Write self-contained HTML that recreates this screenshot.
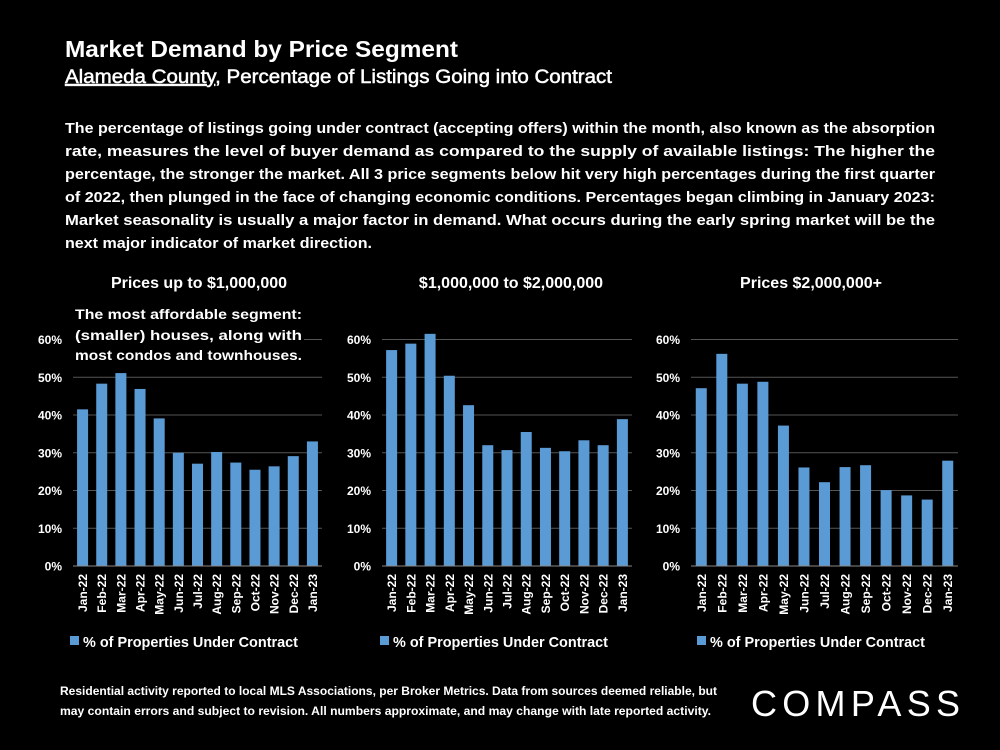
<!DOCTYPE html>
<html><head><meta charset="utf-8"><style>
html,body{margin:0;padding:0;background:#000;}
svg{display:block;font-family:"Liberation Sans",sans-serif;}
</style></head><body>
<svg id="s" width="1000" height="750" viewBox="0 0 1000 750">
<rect width="1000" height="750" fill="#000"/>
<text x="65" y="57" fill="#fff" font-size="23" font-weight="bold" textLength="393" lengthAdjust="spacingAndGlyphs">Market Demand by Price Segment</text>
<text x="65" y="83" fill="#fff" font-size="19" stroke="#fff" stroke-width="0.5" textLength="547" lengthAdjust="spacingAndGlyphs"><tspan text-decoration="underline">Alameda County</tspan>, Percentage of Listings Going into Contract</text>
<g fill="#fff" font-size="15" font-weight="bold">
<text x="65" y="133" textLength="870" lengthAdjust="spacingAndGlyphs">The percentage of listings going under contract (accepting offers) within the month, also known as the absorption</text>
<text x="65" y="156" textLength="870" lengthAdjust="spacingAndGlyphs">rate, measures the level of buyer demand as compared to the supply of available listings:  The higher the</text>
<text x="65" y="179" textLength="870" lengthAdjust="spacingAndGlyphs">percentage, the stronger the market. All 3 price segments below hit very high percentages during the first quarter</text>
<text x="65" y="202" textLength="870" lengthAdjust="spacingAndGlyphs">of 2022, then plunged in the face of changing economic conditions. Percentages began climbing in January 2023:</text>
<text x="65" y="225" textLength="870" lengthAdjust="spacingAndGlyphs">Market seasonality is usually a major factor in demand. What occurs during the early spring market will be the</text>
<text x="65" y="248" textLength="307" lengthAdjust="spacingAndGlyphs">next major indicator of market direction.</text>
</g>
<g id="charts"></g>
<rect x="72" y="302" width="232" height="64" fill="#000"/>
<g fill="#fff" font-size="14" font-weight="bold">
<text x="75" y="319" textLength="227" lengthAdjust="spacingAndGlyphs">The most affordable segment:</text>
<text x="75" y="340" textLength="227" lengthAdjust="spacingAndGlyphs">(smaller) houses, along with</text>
<text x="75" y="360" textLength="227" lengthAdjust="spacingAndGlyphs">most condos and townhouses.</text>
</g>
<g fill="#fff" font-size="12" font-weight="bold">
<text x="60" y="695" textLength="657" lengthAdjust="spacingAndGlyphs">Residential activity reported to local MLS Associations, per Broker Metrics. Data from sources deemed reliable, but</text>
<text x="60" y="715" textLength="651" lengthAdjust="spacingAndGlyphs">may contain errors and subject to revision. All numbers approximate, and may change with late reported activity.</text>
</g>
<text x="751" y="716" fill="#fff" font-size="36" textLength="209" lengthAdjust="spacing">COMPASS</text>
</svg>
<script>
const categories = ["Jan-22","Feb-22","Mar-22","Apr-22","May-22","Jun-22","Jul-22","Aug-22","Sep-22","Oct-22","Nov-22","Dec-22","Jan-23"];
const seriesUnder1M = [41.5,48.3,51.1,46.9,39.1,30.0,27.1,30.2,27.4,25.5,26.4,29.1,33.0];
const series1Mto2M = [57.2,58.9,61.5,50.4,42.6,32.0,30.7,35.5,31.3,30.4,33.3,32.0,38.9];
const seriesOver2M = [47.1,56.2,48.3,48.8,37.2,26.1,22.2,26.2,26.7,20.1,18.7,17.6,27.9];
const yTicks = [0,10,20,30,40,50,60];
const chartTitles = ["Prices up to $1,000,000","$1,000,000 to $2,000,000","Prices $2,000,000+"];
const legendLabel = "% of Properties Under Contract";

const NS="http://www.w3.org/2000/svg";
const root=document.getElementById('charts');
function mk(tag,attrs,parent){const e=document.createElementNS(NS,tag);for(const k in attrs)e.setAttribute(k,attrs[k]);(parent||root).appendChild(e);return e;}
const layouts=[{x0:73,x1:322,tx:199,lx:70},{x0:382,x1:632,tx:511,lx:380},{x0:691,x1:958,tx:811,lx:697}];
const allSeries=[seriesUnder1M,series1Mto2M,seriesOver2M];
const y0=566,yTop=339.5,yMax=60;
allSeries.forEach((vals,ci)=>{
  const L=layouts[ci];
  const g=mk('g',{});
  
  
  const yS=v=>y0-(v/yMax)*(y0-yTop);
  const band=(L.x1-L.x0)/categories.length;
  const xS=i=>L.x0+band*(i+0.5);
  const t=mk('text',{x:L.tx,y:288,fill:'#fff','font-size':16,'font-weight':'bold','text-anchor':'middle'},g);
  t.textContent=chartTitles[ci];
  
  
  yTicks.forEach(v=>{
    const y=yS(v);
    if(v>0){const gl=mk('line',{x1:L.x0,x2:L.x1,y1:y,y2:y,stroke:'#555','stroke-width':1},g);
      
      }
    const tl=mk('text',{x:L.x0-11,y:y+4.5,fill:'#fff','font-size':12,'font-weight':'bold','text-anchor':'end'},g);
    tl.textContent=v+'%';
    
    
  });
  vals.forEach((v,i)=>{
    const w=11,y=yS(v);
    const r=mk('rect',{x:xS(i)-w/2,y:y,width:w,height:y0-y,fill:'#5b9bd5'},g);
    
    
    const lx=xS(i)+4.5;
    const xl=mk('text',{x:0,y:0,transform:`translate(${lx},${y0+8}) rotate(-90)`,fill:'#fff','font-size':12,'font-weight':'bold','text-anchor':'end'},g);
    xl.textContent=categories[i];
    
    
  });
  const ax=mk('line',{x1:L.x0,x2:L.x1,y1:y0,y2:y0,stroke:'#888','stroke-width':1},g);
  
  
  const sw=mk('rect',{x:L.lx,y:636,width:9,height:9,fill:'#5b9bd5'},g);
  
  
  const lt=mk('text',{x:L.lx+13,y:647,fill:'#fff','font-size':15,'font-weight':'bold',textLength:215,lengthAdjust:'spacingAndGlyphs'},g);
  lt.textContent=legendLabel;
  
  
});
</script>
</body></html>
